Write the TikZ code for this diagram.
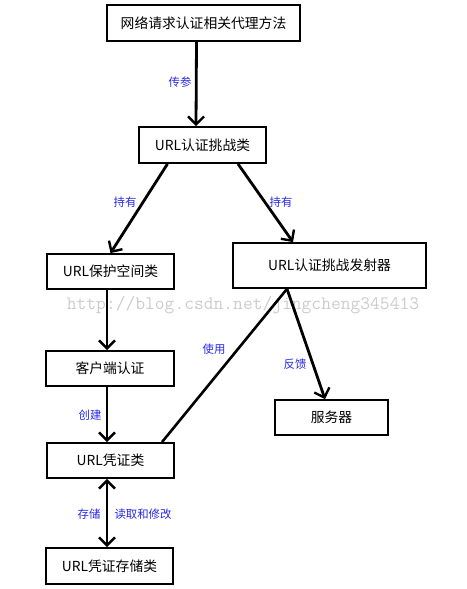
\documentclass[tikz,border=0pt]{standalone}
\usepackage{fontspec}
\setmainfont{Noto Sans CJK SC}
\usetikzlibrary{arrows.meta}

\definecolor{labelblue}{RGB}{40,40,230}

\begin{document}
\begin{tikzpicture}[x=1pt, y=-1pt,
  box/.style={draw, line width=1.8pt, minimum width=127, minimum height=35, inner sep=0, font=\fontsize{13.8}{16}\selectfont},
  lbl/.style={text=labelblue, inner sep=0, font=\fontsize{11.4}{13}\selectfont},
  barb/.tip={Straight Barb[length=8pt, width=16pt, line width=2.4pt]},
  arr/.style={line width=2.8pt, -barb},
  wm/.style={text=black!20, inner sep=0, font=\ttfamily\fontsize{19}{21}\selectfont}]

  \useasboundingbox (0,0) rectangle (466,589);

  % watermark behind
  \node[wm] (mark) at (243,305) {http://blog.csdn.net/jingcheng345413};

  % boxes
  \node[box, minimum width=193, minimum height=36] at (203.5,23) (proxy) {网络请求认证相关代理方法};
  \node[box, minimum height=36] at (202.5,145) (chal) {URL认证挑战类};
  \node[box] at (110.5,271.5) (space) {URL保护空间类};
  \node[box, minimum width=193, minimum height=45] at (329.5,265.5) (sender) {URL认证挑战发射器};
  \node[box, minimum width=128] at (110,368.5) (client) {客户端认证};
  \node[box, minimum width=113] at (331.5,417.5) (server) {服务器};
  \node[box] at (110.5,460.5) (cred) {URL凭证类};
  \node[box, minimum height=36] at (109.5,566) (store) {URL凭证存储类};

  % labels
  \node[lbl] at (180,82) (pass) {传参};
  \node[lbl] at (125,202) (holdl) {持有};
  \node[lbl] at (281,202) (holdr) {持有};
  \node[lbl] at (214,349) (use) {使用};
  \node[lbl] at (295,364) (feed) {反馈};
  \node[lbl] at (90,415) (make) {创建};
  \node[lbl] at (89,514) (keep) {存储};
  \node[lbl] at (143,514) (rw) {读取和修改};

  \draw[arr] ([xshift=-7]proxy.south) -- ([xshift=-6.5]chal.north);
  \draw[arr] ([xshift=-35]chal.south) -- (space.north);
  \draw[arr] ([xshift=35.5]chal.south) -- ([xshift=-36.5]sender.north);
  \draw[arr] ([xshift=-3.5]space.south) -- ([xshift=-3]client.north);
  \draw[arr] ([xshift=-3]client.south) -- ([xshift=-3.5]cred.north);
  \draw[line width=2.6pt] ([xshift=-42.5]sender.south) -- ([xshift=51.5]cred.north);
  \draw[arr] ([xshift=-42.5]sender.south) -- ([xshift=-6.5]server.north);
  \draw[line width=2.8pt, barb-barb] ([xshift=-3.5]cred.south) -- ([xshift=-2.5]store.north);

\end{tikzpicture}
\end{document}
